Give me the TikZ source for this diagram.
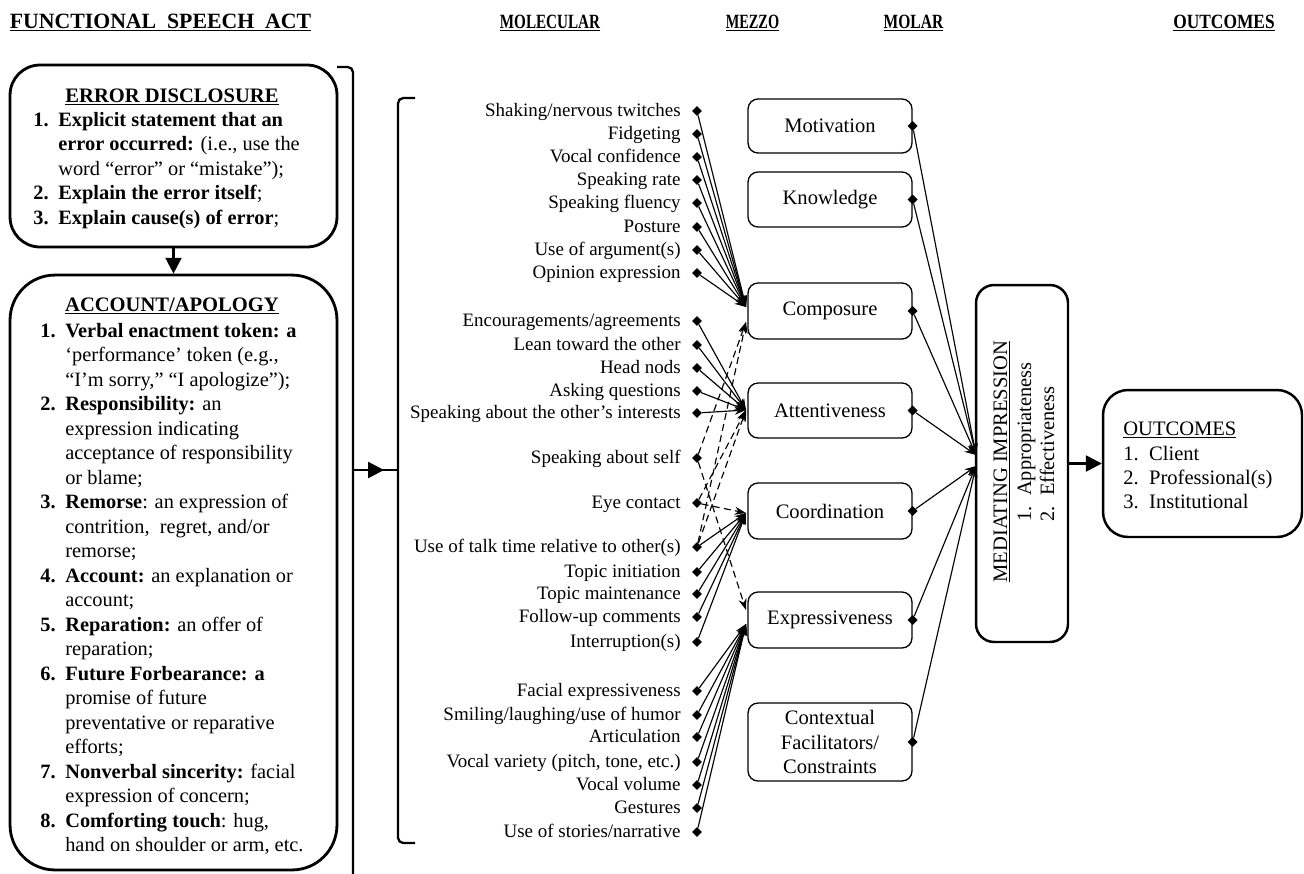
\documentclass[tikz,border=0pt]{standalone}
\usepackage{fontspec}
\setmainfont{Liberation Serif}
\usetikzlibrary{arrows.meta,shapes.geometric}
\newcommand{\molitem}[3]{%
  \node[lbl] (#1t) at (681,#2+5) {#3};
  \node[mk] (#1) at (697,#2) {};}
\begin{document}
\begin{tikzpicture}[x=0.02cm,y=-0.02cm,
  hdr/.style={font=\fontsize{12.4}{14}\selectfont\bfseries,anchor=base,inner sep=0},
  shdr/.style={font=\fontsize{11.5}{14}\selectfont\bfseries,anchor=base,inner sep=0},
  lbox/.style={draw,line width=1.6pt,minimum width=6.54cm},
  mbox/.style={draw,line width=0.75pt,rounded corners=0.2cm,minimum width=3.28cm,
    font=\fontsize{11.7}{14}\selectfont,align=center,inner sep=0},
  tbox/.style={draw,line width=1.4pt},
  lbl/.style={font=\fontsize{10.8}{12}\selectfont,anchor=base east,inner sep=0},
  mk/.style={diamond,fill=black,inner sep=0,minimum size=5.8pt},
  conn/.style={line width=0.65pt,-{Stealth[length=6.5pt,width=4.6pt]}},
  dconn/.style={conn,dash pattern=on 4pt off 2.5pt},
  brk/.style={line width=1.3pt},
  big/.style={line width=1.4pt,-{Triangle[length=9pt,width=9pt]}},
  txt/.style={anchor=base west,inner sep=0,font=\fontsize{11.6}{13.95}\selectfont},
]
\useasboundingbox (0,0) rectangle (1304,873);

% headers
\node[hdr] (h1) at (160.5,28) {\underline{FUNCTIONAL\ \ SPEECH\ \ ACT}};
\node[shdr] (h2) at (550,28) {\underline{\scalebox{0.75}[1]{MOLECULAR}}};
\node[shdr] (h3) at (752.5,28) {\underline{\scalebox{0.71}[1]{MEZZO}}};
\node[shdr] (h4) at (913.5,28) {\underline{\scalebox{0.77}[1]{MOLAR}}};
\node[shdr] (h5) at (1224,28) {\underline{\scalebox{0.86}[1]{OUTCOMES}}};

% left boxes
\node[lbox,rounded corners=0.6cm,minimum height=3.64cm] (err) at (173.5,156) {};
\node[lbox,rounded corners=0.9cm,minimum height=11.9cm] (acc) at (173.5,572.5) {};
\draw[big] (err.south) -- (acc.north);

\node[font=\fontsize{11.7}{14}\selectfont\bfseries,anchor=base,inner sep=0] (errh) at (172,102) {\underline{ERROR DISCLOSURE}};
\node[txt] (errt) at (33,126) {\begin{tabular}[t]{@{}p{14.2pt}@{}l@{}}
\textbf{1.} & \textbf{Explicit statement that an}\\
 & \textbf{error occurred:} (i.e., use the\\
 & word “error” or “mistake”);\\
\textbf{2.} & \textbf{Explain the error itself};\\
\textbf{3.} & \textbf{Explain cause(s) of error};
\end{tabular}};

\node[font=\fontsize{11.7}{14}\selectfont\bfseries,anchor=base,inner sep=0] (acch) at (172,311) {\underline{ACCOUNT/APOLOGY}};
\node[txt] (acct) at (40,337) {\begin{tabular}[t]{@{}p{14.2pt}@{}l@{}}
\textbf{1.} & \textbf{Verbal enactment token: a}\\
 & ‘performance’ token (e.g.,\\
 & “I’m sorry,” “I apologize”);\\
\textbf{2.} & \textbf{Responsibility:} an\\
 & expression indicating\\
 & acceptance of responsibility\\
 & or blame;\\
\textbf{3.} & \textbf{Remorse}: an expression of\\
 & contrition,\ \ regret, and/or\\
 & remorse;\\
\textbf{4.} & \textbf{Account:} an explanation or\\
 & account;\\
\textbf{5.} & \textbf{Reparation:} an offer of\\
 & reparation;\\
\textbf{6.} & \textbf{Future Forbearance: a}\\
 & promise of future\\
 & preventative or reparative\\
 & efforts;\\
\textbf{7.} & \textbf{Nonverbal sincerity:} facial\\
 & expression of concern;\\
\textbf{8.} & \textbf{Comforting touch}: hug,\\
 & hand on shoulder or arm, etc.
\end{tabular}};

% brackets
\coordinate (rbt) at (337,67);
\coordinate (rbm) at (353,470);
\coordinate (lbm) at (398,470);
\draw[brk,rounded corners=3pt] (rbt) -- (353,67) -- (353,885);
\draw[brk,rounded corners=3pt] (415,98) -- (398,98) -- (398,843) -- (415,843);
\draw[brk] (rbm) -- (lbm);
\draw[big] (rbm) -- (384,470);

% molecular items
\molitem{c1}{111}{Shaking/nervous twitches}
\molitem{c2}{134}{Fidgeting}
\molitem{c3}{157}{Vocal confidence}
\molitem{c4}{180}{Speaking rate}
\molitem{c5}{203}{Speaking fluency}
\molitem{c6}{227}{Posture}
\molitem{c7}{250}{Use of argument(s)}
\molitem{c8}{273}{Opinion expression}
\molitem{a1}{321}{Encouragements/agreements}
\molitem{a2}{345}{Lean toward the other}
\molitem{a3}{368}{Head nods}
\molitem{a4}{391}{Asking questions}
\molitem{a5}{413}{Speaking about the other’s interests}
\molitem{s1}{458}{Speaking about self}
\molitem{s2}{503}{Eye contact}
\molitem{o1}{547}{Use of talk time relative to other(s)}
\molitem{o2}{572}{Topic initiation}
\molitem{o3}{594}{Topic maintenance}
\molitem{o4}{617}{Follow-up comments}
\molitem{o5}{642}{Interruption(s)}
\molitem{e1}{691}{Facial expressiveness}
\molitem{e2}{715}{Smiling/laughing/use of humor}
\molitem{e3}{737}{Articulation}
\molitem{e4}{762}{Vocal variety (pitch, tone, etc.)}
\molitem{e5}{785}{Vocal volume}
\molitem{e6}{808}{Gestures}
\molitem{e7}{832}{Use of stories/narrative}

% mezzo boxes
\node[mbox,minimum height=1.08cm] (mot) at (830,126) {Motivation};
\node[mbox,minimum height=1.1cm] (kno) at (830,199.5) {Knowledge};
\node[mbox,minimum height=1.12cm] (com) at (830,311) {Composure};
\node[mbox,minimum height=1.1cm] (att) at (830,410.5) {Attentiveness};
\node[mbox,minimum height=1.12cm] (coo) at (830,511) {Coordination};
\node[mbox,minimum height=1.12cm] (exp) at (830,620) {Expressiveness};
\node[mbox,minimum height=1.56cm] (ctx) at (830,742) {Contextual\\Facilitators/\\Constraints};

\coordinate (compS) at (746,307);
\coordinate (compD) at (746,322);
\coordinate (attP) at (746,410);
\coordinate (coorP) at (746,513);
\coordinate (expD) at (746,610);
\coordinate (expS) at (746,624);

\foreach \n in {c1,c2,c3,c4,c5,c6,c7,c8} \draw[conn] (\n) -- (compS);
\foreach \n in {a1,a2,a3,a4,a5} \draw[conn] (\n) -- (attP);
\foreach \n in {o1,o2,o3,o4,o5} \draw[conn] (\n) -- (coorP);
\foreach \n in {e1,e2,e3,e4,e5,e6,e7} \draw[conn] (\n) -- (expS);
\draw[dconn] (s1) -- (compD);
\draw[dconn] (o1) -- (compD);
\draw[dconn] (s2) -- (attP);
\draw[dconn] (o1) -- (attP);
\draw[dconn] (s2) -- (coorP);
\draw[dconn] (s1) -- (expD);

% mezzo right markers
\node[mk] (motR) at (mot.east) {};
\node[mk] (knoR) at (kno.east) {};
\node[mk] (comR) at (com.east) {};
\node[mk] (attR) at (att.east) {};
\node[mk] (cooR) at (coo.east) {};
\node[mk] (expR) at (exp.east) {};
\node[mk] (ctxR) at (ctx.east) {};

% mediating
\node[tbox,rounded corners=0.36cm,minimum width=1.84cm,minimum height=7.14cm] (med) at (1022,463.5) {};
\coordinate (medT) at (976,455);
\coordinate (medB) at (976,466);
\foreach \n in {motR,knoR,comR,attR} \draw[conn] (\n) -- (medT);
\foreach \n in {cooR,expR,ctxR} \draw[conn] (\n) -- (medB);

\node[rotate=90,anchor=base,inner sep=0,font=\fontsize{11.7}{14}\selectfont] (medh) at (1007,461.5) {\underline{MEDIATING IMPRESSION}};
\node[rotate=90,anchor=base west,inner sep=0,font=\fontsize{11.6}{13}\selectfont] (med1) at (1031,522) {1.\hspace{6pt}Appropriateness};
\node[rotate=90,anchor=base west,inner sep=0,font=\fontsize{11.6}{13}\selectfont] (med2) at (1054,522) {2.\hspace{6pt}Effectiveness};

% outcomes
\node[tbox,rounded corners=0.5cm,minimum width=3.98cm,minimum height=2.94cm] (out) at (1202.5,463.5) {};
\draw[big] (med) -- (out);
\node[anchor=base west,inner sep=0,font=\fontsize{11.7}{13.6}\selectfont] (outt) at (1123,435) {\begin{tabular}[t]{@{}p{14.7pt}@{}l@{}}
\multicolumn{2}{@{}l@{}}{\underline{OUTCOMES}}\\[1.1pt]
1. & Client\\
2. & Professional(s)\\
3. & Institutional
\end{tabular}};
\end{tikzpicture}
\end{document}
